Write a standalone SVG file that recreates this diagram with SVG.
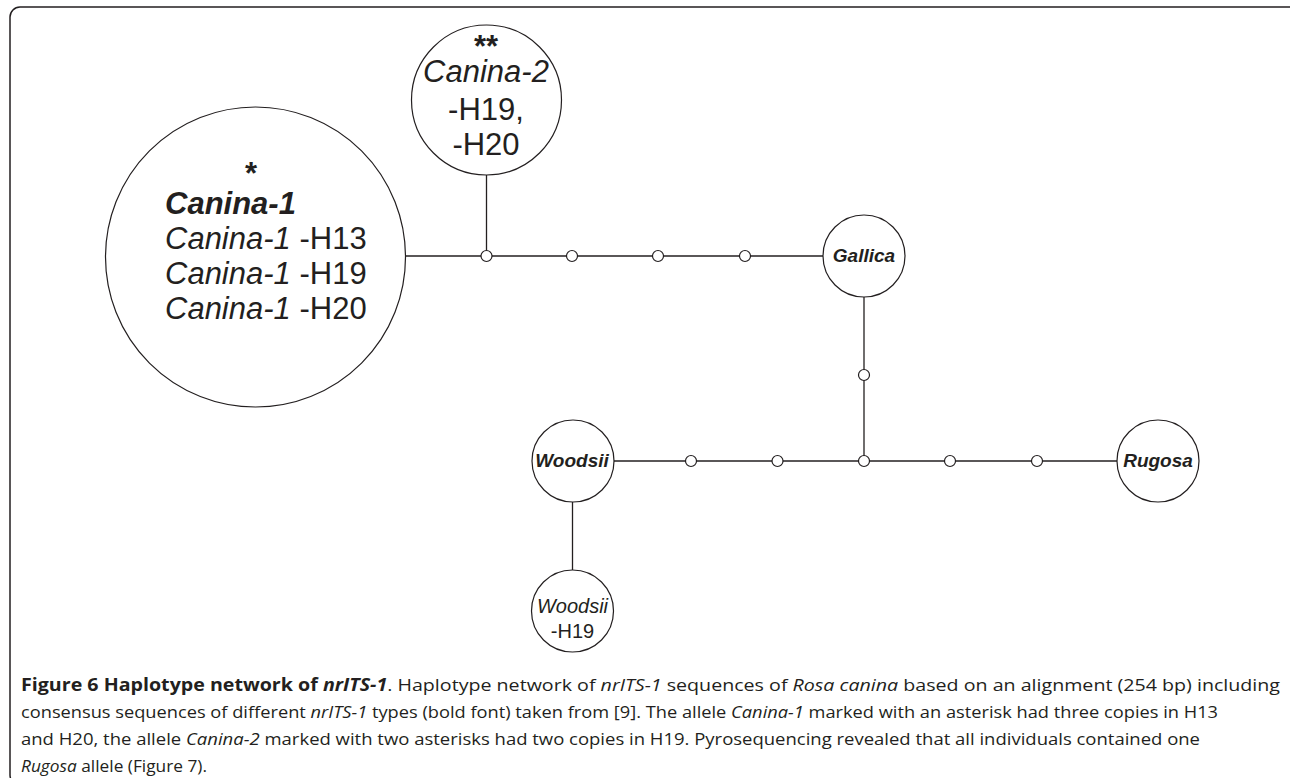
<svg xmlns="http://www.w3.org/2000/svg" width="1290" height="778" viewBox="0 0 1290 778">
<style>
.frame{fill:none;stroke:#231f20;stroke-width:1.5}
.edge{stroke:#231f20;stroke-width:1.3;fill:none}
.node{fill:#fff;stroke:#231f20;stroke-width:1.2}
.mv{fill:#fff;stroke:#231f20;stroke-width:1.2}
.t{font-family:"Liberation Sans",Arial,sans-serif;fill:#231f20}
.bi{font-weight:bold;font-style:italic}
.i{font-style:italic}
.cap{font-family:"Open Sans","Noto Sans",sans-serif;font-size:17px;fill:#231f20}
</style>
<rect class="frame" x="10" y="7" width="1290" height="778" rx="10"/>
<g id="connectors">
<line class="edge" x1="405" y1="256" x2="823" y2="256"/>
<line class="edge" x1="486.5" y1="175" x2="486.5" y2="256"/>
<line class="edge" x1="864" y1="297" x2="864" y2="461"/>
<line class="edge" x1="614" y1="461" x2="1117" y2="461"/>
<line class="edge" x1="572.5" y1="502" x2="572.5" y2="570"/>
</g>
<g id="mv1"><circle class="mv" cx="486.5" cy="256" r="5.5"/></g>
<g id="mv2"><circle class="mv" cx="572" cy="256" r="5.5"/></g>
<g id="mv3"><circle class="mv" cx="658" cy="256" r="5.5"/></g>
<g id="mv4"><circle class="mv" cx="745" cy="256" r="5.5"/></g>
<g id="mv5"><circle class="mv" cx="864" cy="375" r="5.5"/></g>
<g id="mv6"><circle class="mv" cx="691" cy="461" r="5.5"/></g>
<g id="mv7"><circle class="mv" cx="777.5" cy="461" r="5.5"/></g>
<g id="mv8"><circle class="mv" cx="864" cy="461" r="5.5"/></g>
<g id="mv9"><circle class="mv" cx="950" cy="461" r="5.5"/></g>
<g id="mv10"><circle class="mv" cx="1037" cy="461" r="5.5"/></g>
<g id="canina1">
<circle class="node" cx="255.5" cy="257" r="150"/>
<text class="t" font-size="31"><tspan x="251" y="184" font-weight="bold" text-anchor="middle">*</tspan><tspan class="bi" x="165" y="214">Canina-1</tspan></text>
<text class="t" x="165" y="249" font-size="31"><tspan class="i">Canina-1</tspan> -H13</text>
<text class="t" x="165" y="284" font-size="31"><tspan class="i">Canina-1</tspan> -H19</text>
<text class="t" x="165" y="319" font-size="31"><tspan class="i">Canina-1</tspan> -H20</text>
</g>
<g id="canina2">
<circle class="node" cx="486.5" cy="100" r="75"/>
<text class="t" font-size="31" text-anchor="middle"><tspan x="486" y="57" font-weight="bold">**</tspan><tspan class="i" x="486" y="82">Canina-2</tspan></text>
<text class="t" x="486" y="120" font-size="31" text-anchor="middle">-H19,</text>
<text class="t" x="486" y="155" font-size="31" text-anchor="middle">-H20</text>
</g>
<g id="gallica">
<circle class="node" cx="864" cy="256" r="41"/>
<text class="t bi" x="864" y="262" font-size="19" text-anchor="middle">Gallica</text>
</g>
<g id="woodsii">
<circle class="node" cx="573" cy="461" r="41"/>
<text class="t bi" x="572" y="467" font-size="19" text-anchor="middle">Woodsii</text>
</g>
<g id="rugosa">
<circle class="node" cx="1158" cy="461" r="41"/>
<text class="t bi" x="1158" y="467" font-size="19" text-anchor="middle">Rugosa</text>
</g>
<g id="woodsiiH19">
<circle class="node" cx="572.5" cy="611" r="41"/>
<text class="t i" x="572.5" y="613" font-size="20" text-anchor="middle">Woodsii</text>
<text class="t" x="572.5" y="638" font-size="20" text-anchor="middle">-H19</text>
</g>
<g id="caption">
<text class="cap" x="21" y="691" textLength="1259" lengthAdjust="spacingAndGlyphs"><tspan font-weight="bold">Figure 6 Haplotype network of <tspan font-style="italic">nrITS-1</tspan></tspan>. Haplotype network of <tspan font-style="italic">nrITS-1</tspan> sequences of <tspan font-style="italic">Rosa canina</tspan> based on an alignment (254 bp) including</text>
<text class="cap" x="21" y="718" textLength="1197" lengthAdjust="spacingAndGlyphs">consensus sequences of different <tspan font-style="italic">nrITS-1</tspan> types (bold font) taken from [9]. The allele <tspan font-style="italic">Canina-1</tspan> marked with an asterisk had three copies in H13</text>
<text class="cap" x="21" y="745" textLength="1179" lengthAdjust="spacingAndGlyphs">and H20, the allele <tspan font-style="italic">Canina-2</tspan> marked with two asterisks had two copies in H19. Pyrosequencing revealed that all individuals contained one</text>
<text class="cap" x="21" y="772" textLength="186" lengthAdjust="spacingAndGlyphs"><tspan font-style="italic">Rugosa</tspan> allele (Figure 7).</text>
</g>
</svg>
